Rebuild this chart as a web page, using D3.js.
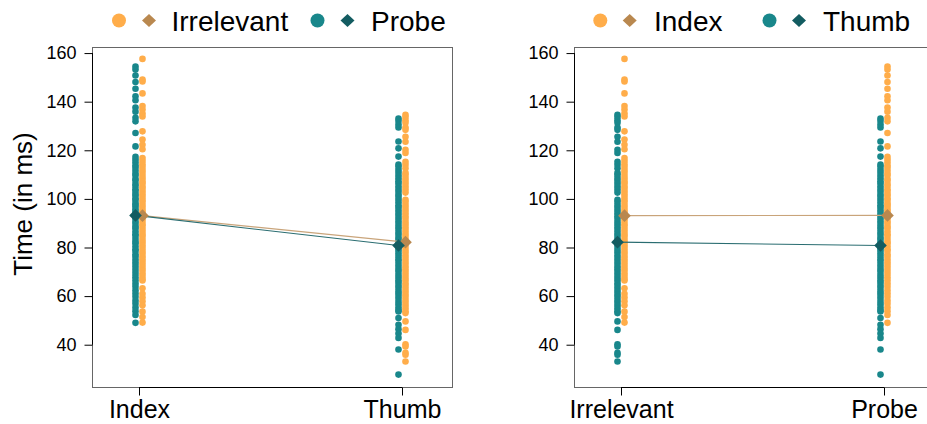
<!DOCTYPE html>
<html><head><meta charset="utf-8">
<script src="https://cdn.jsdelivr.net/npm/d3@7"></script>
<style>body{margin:0;background:#fff} svg{display:block;font-family:"Liberation Sans",Arial,Helvetica,sans-serif}</style>
</head><body><svg id="chart" width="927" height="424"></svg>
<script>
// ---------- data ----------
const fingers = ["Index", "Thumb"];
const trialTypes = ["Irrelevant", "Probe"];
const yTicks = [40, 60, 80, 100, 120, 140, 160];

const indexIrrelevant = [157.6, 149.1, 148.3, 143.4, 138.2, 136.8, 135.1, 133.9, 127.8, 124.4, 122.3, 120.4,
  116.8, 115.6, 114.3, 113.1, 111.9, 110.8, 109.5, 108.4, 107.2, 106.3, 105.1, 104.2, 103.0, 101.9, 100.8, 99.6,
  98.7, 97.5, 96.4, 95.2, 94.3, 93.1, 92.0, 90.9, 89.7, 88.8, 87.6, 86.5, 85.3, 84.4, 83.2, 82.1, 80.9, 79.8,
  78.6, 77.5, 76.3, 75.2, 74.0, 72.9, 71.7, 70.6, 69.4, 68.3, 67.1, 66.4, 63.2, 61.0, 59.4, 57.9, 56.2, 53.6, 51.4, 49.1];
const indexProbe = [154.5, 153.2, 150.8, 148.1, 145.3, 142.2, 140.6, 137.6, 135.9, 133.4, 131.9, 127.1, 121.6,
  117.3, 116.2, 115.1, 113.8, 112.9, 111.7, 110.4, 109.6, 108.2, 107.5, 106.1, 105.3, 104.0, 103.2, 102.1, 101.4,
  100.2, 99.5, 98.3, 97.6, 96.8, 95.7, 94.9, 93.8, 92.6, 91.9, 90.7, 89.8, 88.6, 87.9, 86.7, 85.5, 84.8, 83.6,
  82.4, 81.7, 80.5, 79.3, 78.6, 77.2, 76.4, 75.1, 73.9, 72.8, 71.6, 70.3, 69.1, 67.8, 66.5, 65.2, 63.9, 62.4,
  61.1, 59.7, 58.2, 56.9, 55.3, 53.8, 52.2, 49.0];
const thumbIrrelevant = [134.6, 133.7, 132.4, 131.3, 129.4, 128.4, 125.6, 123.5, 120.2, 118.9, 115.3, 114.0, 112.6,
  110.7, 109.8, 108.6, 107.5, 106.3, 105.1, 103.9, 102.6, 99.6, 98.7, 97.5, 96.4, 95.2, 94.1, 92.9, 91.8, 90.6,
  89.5, 88.3, 87.2, 86.0, 84.9, 83.7, 82.6, 81.4, 80.3, 79.1, 78.0, 76.8, 75.7, 74.5, 73.4, 72.2, 71.1, 69.9,
  68.8, 67.6, 66.5, 65.3, 64.2, 63.0, 61.9, 60.7, 59.6, 58.4, 57.3, 56.1, 55.0, 53.8, 53.0,
  49.6, 46.1, 40.2, 39.3, 36.7, 35.9, 33.1];
const thumbProbe = [133.1, 132.0, 130.6, 129.4, 123.6, 120.8, 117.4,
  114.1, 113.2, 112.0, 110.9, 109.6, 108.5, 107.3, 106.4, 105.2, 104.1, 103.0, 101.8, 100.9, 99.7, 98.6, 97.4,
  96.5, 95.3, 94.2, 93.1, 91.9, 90.8, 89.7, 88.5, 87.6, 86.4, 85.3, 84.1, 83.2, 82.0, 80.9, 79.7, 78.8, 77.6,
  76.5, 75.3, 74.4, 73.2, 72.1, 70.9, 70.0, 68.8, 67.7, 66.5, 65.6, 64.4, 63.3, 62.1, 61.2, 60.0, 58.9, 57.7,
  56.6, 55.4, 54.3, 53.7, 51.0, 48.2, 46.4, 44.6, 42.8, 38.0, 27.7];

// means (Index, Thumb)
const meanIrrelevant = [93.1, 82.2];
const meanProbe = [93.2, 80.8];

// ---------- helpers ----------
const cellValues = {
  Index: { Irrelevant: indexIrrelevant, Probe: indexProbe },
  Thumb: { Irrelevant: thumbIrrelevant, Probe: thumbProbe }
};
const cellMeans = {
  Index: { Irrelevant: meanIrrelevant[0], Probe: meanProbe[0] },
  Thumb: { Irrelevant: meanIrrelevant[1], Probe: meanProbe[1] }
};

const dotColors = ["#ffad4a", "#19878b"];
const diamondColors = ["#b9884f", "#135c61"];
const lineColors = ["#c9a47a", "#2a6d71"];
const offsets = [3.5, -3.5];

const svg = d3.select("#chart");
const y = d3.scaleLinear().domain([22.6, 162.5]).range([387, 47]);
const diamond = d3.symbol().type(d3.symbolDiamond2 || d3.symbolDiamond);

function diamondPath(cx, cy, hw, hh) {
  return `M${cx},${cy - hh}L${cx + hw},${cy}L${cx},${cy + hh}L${cx - hw},${cy}Z`;
}

const panels = [
  { left: 92, cats: fingers, groups: trialTypes,
    get: (c, g) => cellValues[c][g], mean: (c, g) => cellMeans[c][g] },
  { left: 574, cats: trialTypes, groups: fingers,
    get: (c, g) => cellValues[g][c], mean: (c, g) => cellMeans[g][c] }
];

panels.forEach(p => {
  const x = d3.scalePoint().domain(p.cats).range([p.left + 47, p.left + 310]);
  const g = svg.append("g");

  // dots
  p.groups.forEach((grp, gi) => {
    p.cats.forEach(cat => {
      g.append("g").selectAll("circle")
        .data(p.get(cat, grp))
        .join("circle")
        .attr("cx", x(cat) + offsets[gi])
        .attr("cy", d => y(d))
        .attr("r", 3.3)
        .attr("fill", dotColors[gi]);
    });
  });

  // mean lines
  p.groups.forEach((grp, gi) => {
    const pts = p.cats.map(cat => [x(cat) + offsets[gi], y(p.mean(cat, grp))]);
    g.append("path")
      .attr("d", d3.line()(pts))
      .attr("fill", "none")
      .attr("stroke", lineColors[gi])
      .attr("stroke-width", 1.1);
  });

  // mean diamonds
  p.groups.forEach((grp, gi) => {
    g.append("g").selectAll("path")
      .data(p.cats)
      .join("path")
      .attr("d", cat => diamondPath(x(cat) + offsets[gi], y(p.mean(cat, grp)), 6.3, 6.3))
      .attr("fill", diamondColors[gi]);
  });

  // box
  g.append("rect")
    .attr("x", p.left + 0.5).attr("y", 47.5)
    .attr("width", 360).attr("height", 340)
    .attr("fill", "none").attr("stroke", "#666").attr("stroke-width", 1);

  // y axis
  const ya = g.append("g").attr("transform", `translate(${p.left + 0.5},0)`)
    .call(d3.axisLeft(y).tickValues(yTicks).tickSize(8).tickPadding(8).tickFormat(d3.format("d")));
  ya.select(".domain").remove();
  ya.append("line").attr("x1", 0).attr("x2", 0)
    .attr("y1", y(yTicks[0])).attr("y2", y(yTicks[yTicks.length - 1])).attr("stroke", "#000");
  ya.selectAll(".tick line").attr("stroke", "#000");
  ya.selectAll(".tick text").attr("font-size", 18).attr("fill", "#000")
    .attr("font-family", '"Liberation Sans",Arial,sans-serif');

  // x axis
  const xa = g.append("g").attr("transform", `translate(0,387.5)`)
    .call(d3.axisBottom(x).tickSize(8));
  xa.select(".domain").remove();
  xa.append("line").attr("x1", x(p.cats[0])).attr("x2", x(p.cats[1]))
    .attr("y1", 0).attr("y2", 0).attr("stroke", "#000");
  xa.selectAll(".tick line").attr("stroke", "#000");
  xa.selectAll(".tick text").attr("font-size", 25).attr("fill", "#000")
    .attr("y", 30.5).attr("dy", 0)
    .attr("font-family", '"Liberation Sans",Arial,sans-serif');
});

// y label
svg.append("text")
  .attr("transform", "translate(32,204) rotate(-90)")
  .attr("text-anchor", "middle")
  .attr("font-size", 26)
  .attr("fill", "#000")
  .text("Time (in ms)");

// legends
const legends = [
  { labels: trialTypes, circ: [119, 317.5], diam: [149, 347.5], text: [171.5, 371] },
  { labels: fingers, circ: [600.3, 769.5], diam: [629.7, 799], text: [654, 823] }
];
legends.forEach(L => {
  L.labels.forEach((lab, i) => {
    svg.append("circle").attr("cx", L.circ[i]).attr("cy", 20.5).attr("r", 7).attr("fill", dotColors[i]);
    svg.append("path").attr("d", diamondPath(L.diam[i], 20.5, 7, 6.5)).attr("fill", diamondColors[i]);
    svg.append("text").attr("x", L.text[i]).attr("y", 31).attr("font-size", 28).attr("fill", "#000").text(lab);
  });
});
</script></body></html>
